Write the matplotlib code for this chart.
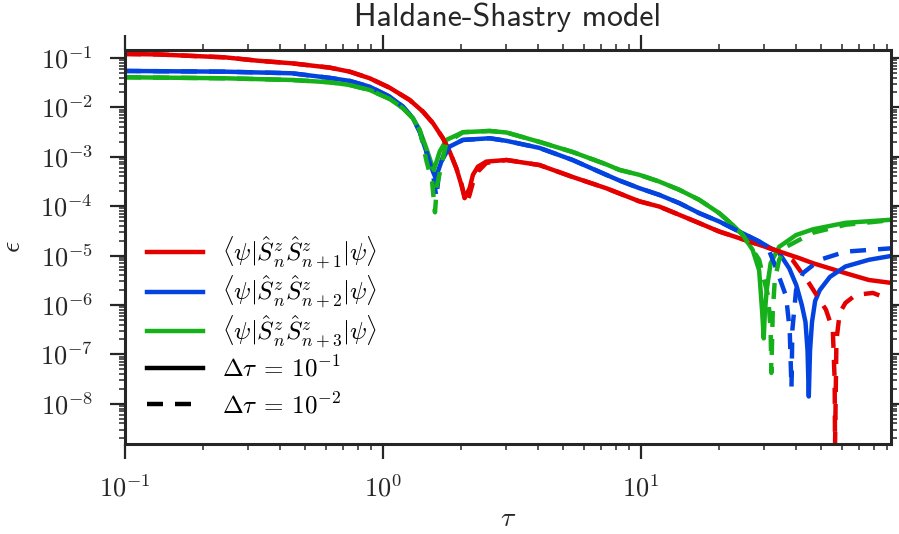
import matplotlib
matplotlib.use('Agg')
import matplotlib.pyplot as plt
from matplotlib.lines import Line2D
from matplotlib.ticker import LogLocator, FuncFormatter, NullFormatter
import numpy as np

plt.rcParams['mathtext.fontset'] = 'cm'

# <S_n S_n+1>, solid: dt = 0.1, dashed: dt = 0.01
tau_r1 = [0.1, 0.134, 0.182, 0.244, 0.327, 0.443, 0.622, 0.743, 0.888, 1.061, 1.269, 1.428, 1.562,
          1.707, 1.813, 1.924, 2.012, 2.072, 2.166, 2.231, 2.332, 2.514, 3.01, 4.04, 5.43, 7.34, 9.86,
          11.78, 14.08, 16.83, 20.11, 24.04, 28.73, 34.35, 41.04, 46.4, 62.0, 76.4, 93.0]
eps_r1 = [0.1205, 0.118, 0.110, 0.103, 0.088, 0.078, 0.0637, 0.0528, 0.0388, 0.025, 0.0141, 8.2e-3,
          4.78e-3, 2.37e-3, 1.27e-3, 5.87e-4, 2.7e-4, 1.45e-4, 2.31e-4, 4.3e-4, 6.3e-4, 7.98e-4, 8.6e-4,
          6.8e-4, 3.9e-4, 2.3e-4, 1.25e-4, 9.8e-5, 6.67e-5, 4.53e-5, 3.06e-5, 2.25e-5, 1.65e-5,
          1.21e-5, 8.87e-6, 7.0e-6, 4.4e-6, 3.2e-6, 2.8e-6]
tau_r2 = [0.1, 0.134, 0.182, 0.244, 0.327, 0.443, 0.622, 0.743, 0.888, 1.061, 1.269, 1.428, 1.562,
          1.707, 1.813, 1.924, 2.012, 2.103, 2.166, 2.231, 2.332, 2.514, 3.01, 4.04, 5.43, 7.34, 9.86,
          11.78, 14.08, 16.83, 20.11, 24.04, 28.73, 34.35, 38.6, 44.7, 52.1, 55.4, 56.3, 56.5, 57.2,
          58.9, 62.0, 68.0, 79.2, 93.0]
eps_r2 = [0.1205, 0.118, 0.110, 0.103, 0.088, 0.078, 0.0637, 0.0528, 0.0388, 0.025, 0.0141, 8.2e-3,
          4.78e-3, 2.37e-3, 1.27e-3, 5.87e-4, 2.9e-4, 1.1e-4, 1.7e-4, 3.0e-4, 5.0e-4, 7.5e-4, 8.6e-4,
          6.8e-4, 3.9e-4, 2.3e-4, 1.25e-4, 9.8e-5, 6.67e-5, 4.53e-5, 3.06e-5, 2.25e-5, 1.65e-5,
          1.21e-5, 8.2e-6, 2.8e-6, 8e-7, 3.1e-7, 3e-8, 1.4e-9, 1.9e-7, 6.9e-7, 1.1e-6, 1.6e-6, 1.75e-6,
          1.27e-6]

# <S_n S_n+2>
tau_b1 = [0.1, 0.244, 0.443, 0.622, 0.743, 0.888, 1.061, 1.195, 1.306, 1.387, 1.472, 1.562, 1.600,
          1.683, 1.813, 2.041, 2.589, 3.01, 4.04, 5.43, 7.34, 8.25, 9.86, 11.78, 14.08, 16.83, 20.11,
          24.04, 28.73, 34.35, 37.55, 40.0, 42.0, 43.4, 44.2, 44.7, 45.2, 46.0, 47.3, 49.3, 54.0, 62.0,
          76.4, 93.0]
eps_b1 = [0.0546, 0.0528, 0.049, 0.0395, 0.0343, 0.0262, 0.0165, 0.01035, 6.03e-3, 3.23e-3, 1.27e-3,
          5.0e-4, 3.68e-4, 7.98e-4, 1.61e-3, 2.19e-3, 2.37e-3, 2.1e-3, 1.51e-3, 8.6e-4, 4.3e-4, 3.3e-4,
          2.31e-4, 1.69e-4, 1.15e-4, 7.2e-5, 4.88e-5, 3.06e-5, 1.92e-5, 1.12e-5, 5.5e-6, 2.5e-6,
          1.0e-6, 4.5e-7, 1.2e-7, 1.4e-8, 1.2e-7, 4.5e-7, 1.2e-6, 2.0e-6, 3.7e-6, 6.0e-6, 8.2e-6,
          9.8e-6]
tau_b2 = [0.1, 0.244, 0.443, 0.622, 0.743, 0.888, 1.061, 1.195, 1.306, 1.387, 1.472, 1.562, 1.61,
          1.66, 1.72, 1.813, 2.041, 2.589, 3.01, 4.04, 5.43, 7.34, 8.25, 9.86, 11.78, 14.08, 16.83,
          20.11, 24.04, 28.73, 31.1, 33.0, 34.3, 36.5, 37.7, 38.3, 38.6, 39.9, 42.4, 49.3, 62.0, 93.0]
eps_b2 = [0.0546, 0.0528, 0.049, 0.0395, 0.0343, 0.0262, 0.0165, 0.01035, 6.03e-3, 3.23e-3, 1.27e-3,
          4.5e-4, 1.5e-4, 6.5e-4, 1.1e-3, 1.61e-3, 2.19e-3, 2.37e-3, 2.1e-3, 1.51e-3, 8.6e-4, 4.3e-4,
          3.3e-4, 2.31e-4, 1.69e-4, 1.15e-4, 7.2e-5, 4.88e-5, 3.06e-5, 1.92e-5, 1.4e-5, 6.5e-6, 3.7e-6,
          1.5e-6, 3.1e-7, 2.1e-8, 3.1e-7, 2.0e-6, 4.4e-6, 8.2e-6, 1.2e-5, 1.4e-5]

# <S_n S_n+3>
tau_g1 = [0.1, 0.244, 0.443, 0.622, 0.743, 0.888, 1.061, 1.195, 1.306, 1.387, 1.472, 1.562, 1.575,
          1.658, 1.760, 2.041, 2.589, 3.01, 4.04, 5.43, 7.34, 8.25, 9.86, 11.78, 14.08, 16.83, 20.11,
          22.65, 24.76, 27.07, 28.7, 29.5, 29.9, 30.2, 30.7, 31.8, 34.3, 39.9, 46.4, 62.0, 93.0]
eps_g1 = [0.0407, 0.0388, 0.0359, 0.0322, 0.0284, 0.0225, 0.0148, 9.6e-3, 6.03e-3, 3.49e-3, 1.49e-3,
          5.87e-4, 5.42e-4, 1.27e-3, 2.19e-3, 3.14e-3, 3.33e-3, 3.1e-3, 2.0e-3, 1.25e-3, 7.0e-4,
          5.42e-4, 4.3e-4, 3.14e-4, 2.14e-4, 1.34e-4, 7.2e-5, 4.18e-5, 2.63e-5, 1.31e-5, 5e-6, 6.9e-7,
          2.1e-7, 6.9e-7, 2.0e-6, 7.0e-6, 1.5e-5, 2.6e-5, 3.4e-5, 4.6e-5, 5.3e-5]
tau_g2 = [0.1, 0.244, 0.443, 0.622, 0.743, 0.888, 1.061, 1.195, 1.306, 1.387, 1.48, 1.55, 1.59, 1.62,
          1.68, 1.760, 2.041, 2.589, 3.01, 4.04, 5.43, 7.34, 8.25, 9.86, 11.78, 14.08, 16.83, 20.11,
          22.65, 24.76, 27.07, 28.7, 31.1, 31.8, 32.0, 32.4, 33.0, 34.3, 36.5, 46.4, 62.0, 93.0]
eps_g2 = [0.0407, 0.0388, 0.0359, 0.0322, 0.0284, 0.0225, 0.0148, 9.6e-3, 6.03e-3, 3.49e-3, 7.5e-4,
          3.1e-4, 7.5e-5, 2.7e-4, 6.3e-4, 1.9e-3, 3.14e-3, 3.33e-3, 3.1e-3, 2.0e-3, 1.25e-3, 7.0e-4,
          5.42e-4, 4.3e-4, 3.14e-4, 2.14e-4, 1.34e-4, 7.2e-5, 4.18e-5, 2.63e-5, 1.31e-5, 8.2e-6, 1.5e-6,
          3.1e-7, 4.2e-8, 6.9e-7, 3.2e-6, 8.2e-6, 1.5e-5, 2.9e-5, 4.2e-5, 5.2e-5]

colors = ['#e50000', '#0343df', '#15b01a']
labels = [r'$\langle\psi|\hat{S}^z_n\hat{S}^z_{n+1}|\psi\rangle$',
          r'$\langle\psi|\hat{S}^z_n\hat{S}^z_{n+2}|\psi\rangle$',
          r'$\langle\psi|\hat{S}^z_n\hat{S}^z_{n+3}|\psi\rangle$']
dt_labels = [r'$\Delta\tau\:=\:10^{-1}$', r'$\Delta\tau\:=\:10^{-2}$']

lw = 3.2
dash = (3.6, 2.7)

fig = plt.figure(figsize=(8.99, 5.34), dpi=100)
ax = fig.add_axes([125 / 899, 90 / 534, 766 / 899, 394 / 534])

solid = [(tau_r1, eps_r1), (tau_b1, eps_b1), (tau_g1, eps_g1)]
dashed = [(tau_r2, eps_r2), (tau_b2, eps_b2), (tau_g2, eps_g2)]
for (t, e), c in zip(solid, colors):
    ax.plot(t, e, color=c, lw=lw, solid_capstyle='round', solid_joinstyle='round')
for (t, e), c in zip(dashed, colors):
    ax.plot(t, e, color=c, lw=lw, dashes=dash)

ax.set_xscale('log')
ax.set_yscale('log')
ax.set_xlim(0.1, 93.1)
ax.set_ylim(1.53e-9, 0.145)

fmt = FuncFormatter(lambda v, _: r'$\mathrm{10^{%d}}$' % int(round(np.log10(v))))
for axis in (ax.xaxis, ax.yaxis):
    axis.set_major_locator(LogLocator(base=10, numticks=20))
    axis.set_minor_locator(LogLocator(base=10, subs=np.arange(2, 10), numticks=20))
    axis.set_major_formatter(fmt)
    axis.set_minor_formatter(NullFormatter())

dark = '#262626'
for sp in ax.spines.values():
    sp.set_linewidth(2.2)
    sp.set_color(dark)
ax.tick_params(which='both', direction='out', top=True, right=True, colors=dark)
ax.tick_params(which='major', length=11, width=1.6, pad=12, labelsize=19)
ax.tick_params(which='minor', length=4.5, width=1.1)

ax.set_xlabel(r'$\tau$', fontsize=20, color=dark, labelpad=1)
ax.set_ylabel(r'$\epsilon$', fontsize=20, color=dark, labelpad=10)
ax.set_title('Haldane-Shastry model', family='cmss10', fontsize=23, color=dark, pad=17)

h_obs = [Line2D([], [], color=c, lw=lw) for c in colors]
h_dt = [Line2D([], [], color='k', lw=lw), Line2D([], [], color='k', lw=lw, dashes=dash)]
leg1 = ax.legend(h_obs, labels, loc='center left', bbox_to_anchor=(0.0287, 0.386),
                 frameon=False, fontsize=18, handlelength=2.24, handletextpad=0.76,
                 labelspacing=0.12, borderpad=0, borderaxespad=0)
ax.add_artist(leg1)
ax.legend(h_dt, dt_labels, loc='center left', bbox_to_anchor=(0.0287, 0.1447),
          frameon=False, fontsize=18, handlelength=2.24, handletextpad=0.76,
          labelspacing=0.44, borderpad=0, borderaxespad=0)

fig.savefig('out.png', dpi=100)
